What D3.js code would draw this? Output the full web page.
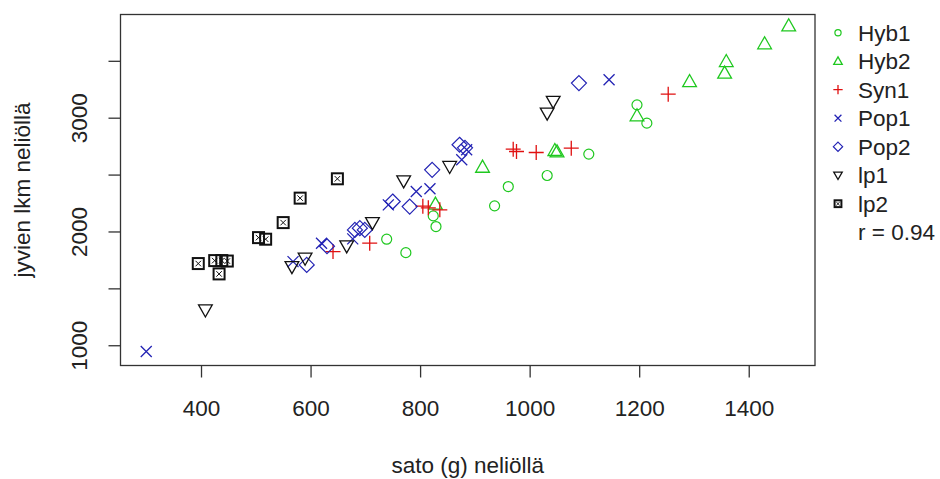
<!DOCTYPE html>
<html><head><meta charset="utf-8">
<script src="https://cdn.jsdelivr.net/npm/d3@7"></script>
<style>body{margin:0;background:#fff}svg{display:block}text{font-family:"Liberation Sans",Arial,sans-serif;fill:#222}</style>
</head><body>
<svg id="c" width="940" height="479"></svg>
<script>
const groups = ["Hyb1","Hyb2","Syn1","Pop1","Pop2","lp1","lp2"];
const hyb1X = [739, 774, 824, 829, 936, 961, 1032, 1108, 1196, 1214];
const hyb1Y = [1932, 1814, 2137, 2043, 2225, 2395, 2492, 2680, 3113, 2952];
const hyb2X = [828, 914, 1046, 1050, 1196, 1292, 1356, 1359, 1429, 1473];
const hyb2Y = [2240, 2565, 2712, 2700, 3017, 3318, 3392, 3494, 3650, 3808];
const syn1X = [641, 708, 805, 815, 836, 970, 976, 1012, 1076, 1253];
const syn1Y = [1823, 1897, 2222, 2208, 2190, 2723, 2703, 2694, 2732, 3207];
const pop1X = [300, 568, 620, 677, 742, 793, 818, 876, 885, 1145];
const pop1Y = [945, 1735, 1897, 1935, 2234, 2351, 2375, 2630, 2718, 3333];
const pop2X = [593, 630, 681, 690, 699, 750, 781, 822, 872, 882, 1090];
const pop2Y = [1706, 1870, 2014, 2029, 2014, 2263, 2219, 2542, 2762, 2735, 3304];
const lp1X = [408, 566, 590, 666, 713, 770, 854, 1032, 1043];
const lp1Y = [1310, 1691, 1765, 1873, 2078, 2445, 2571, 3040, 3143];
const lp2X = [395, 425, 438, 448, 433, 505, 518, 550, 581, 649];
const lp2Y = [1718, 1744, 1744, 1740, 1627, 1946, 1932, 2078, 2293, 2463];
const xTicks = [400, 600, 800, 1000, 1200, 1400];
const yTicks = [1000, 1500, 2000, 2500, 3000, 3500];
const yTickLabels = ["1000", "", "2000", "", "3000", ""];
const rLabel = "r = 0.94";
const colors = {Hyb1:"#1fc81f",Hyb2:"#1fc81f",Syn1:"#e01010",Pop1:"#2323b4",Pop2:"#2323b4",lp1:"#111",lp2:"#111"};
const shapes = {Hyb1:"circle",Hyb2:"tri",Syn1:"plus",Pop1:"cross",Pop2:"diamond",lp1:"tridown",lp2:"boxx"};
const dataX = {Hyb1:hyb1X,Hyb2:hyb2X,Syn1:syn1X,Pop1:pop1X,Pop2:pop2X,lp1:lp1X,lp2:lp2X};
const dataY = {Hyb1:hyb1Y,Hyb2:hyb2Y,Syn1:syn1Y,Pop1:pop1Y,Pop2:pop2Y,lp1:lp1Y,lp2:lp2Y};

const FS = "22.5px";
const L=120.5,R=815,T=14.5,B=365.5;
const x = d3.scaleLinear().domain([253,1521]).range([L,R]);
const y = d3.scaleLinear().domain([822,3907]).range([B,T]);
const svg = d3.select("#c");

function sym(g, shape, cx, cy, s, col){
  const k=s;
  if(shape==="circle") g.append("circle").attr("cx",cx).attr("cy",cy).attr("r",5*k).attr("fill","none").attr("stroke",col).attr("stroke-width",1.2);
  else if(shape==="tri"){const h=7*k;g.append("path").attr("d",`M${cx},${cy-h}L${cx+h*0.98},${cy+h*0.72}L${cx-h*0.98},${cy+h*0.72}Z`).attr("fill","none").attr("stroke",col).attr("stroke-width",1.3);}
  else if(shape==="tridown"){const h=7*k;g.append("path").attr("d",`M${cx},${cy+h}L${cx+h*0.98},${cy-h*0.72}L${cx-h*0.98},${cy-h*0.72}Z`).attr("fill","none").attr("stroke",col).attr("stroke-width",1.3);}
  else if(shape==="plus"){const h=7.5*k;g.append("path").attr("d",`M${cx-h},${cy}H${cx+h}M${cx},${cy-h}V${cy+h}`).attr("stroke",col).attr("stroke-width",1.3);}
  else if(shape==="cross"){const h=5.5*k;g.append("path").attr("d",`M${cx-h},${cy-h}L${cx+h},${cy+h}M${cx-h},${cy+h}L${cx+h},${cy-h}`).attr("stroke",col).attr("stroke-width",1.3);}
  else if(shape==="diamond"){const h=7.5*k;g.append("path").attr("d",`M${cx},${cy-h}L${cx+h},${cy}L${cx},${cy+h}L${cx-h},${cy}Z`).attr("fill","none").attr("stroke",col).attr("stroke-width",1.2);}
  else if(shape==="boxx"){const h=5.5*k,q=h*0.5;g.append("rect").attr("x",cx-h).attr("y",cy-h).attr("width",2*h).attr("height",2*h).attr("fill","none").attr("stroke",col).attr("stroke-width",2);
    g.append("path").attr("d",`M${cx-q},${cy-q}L${cx+q},${cy+q}M${cx-q},${cy+q}L${cx+q},${cy-q}`).attr("stroke",col).attr("stroke-width",1);}
}

// box
svg.append("rect").attr("x",L).attr("y",T).attr("width",R-L).attr("height",B-T).attr("fill","none").attr("stroke","#333").attr("stroke-width",1.3);

// x axis
const xa = svg.append("g").attr("transform",`translate(0,${B})`).call(d3.axisBottom(x).tickValues(xTicks).tickSize(12).tickPadding(23).tickFormat(d3.format("d")));
xa.select(".domain").remove();
xa.selectAll("line").attr("stroke","#333").attr("stroke-width",1.3);
xa.selectAll("text").style("font-size",FS).attr("fill","#222");
// y axis
const ya = svg.append("g").attr("transform",`translate(${L},0)`).call(d3.axisLeft(y).tickValues(yTicks).tickSize(12).tickFormat((d,i)=>yTickLabels[i]));
ya.select(".domain").remove();
ya.selectAll("line").attr("stroke","#333").attr("stroke-width",1.3);
ya.selectAll("text").style("font-size",FS).attr("fill","#222").attr("text-anchor","middle").attr("x",0).attr("dy",0)
  .attr("transform","translate(-34,0) rotate(-90)");

svg.append("text").attr("x",(L+R)/2).attr("y",473).attr("text-anchor","middle").style("font-size",FS).text("sato (g) neliöllä");
svg.append("text").attr("transform",`translate(30,${(T+B)/2}) rotate(-90)`).attr("text-anchor","middle").style("font-size",FS).text("jyvien lkm neliöllä");

// points
const pg = svg.append("g");
groups.forEach(gn=>{
  dataX[gn].forEach((v,i)=>sym(pg, shapes[gn], x(v), y(dataY[gn][i]), 1, colors[gn]));
});

// legend
const lg = svg.append("g");
groups.forEach((gn,i)=>{
  const yy = 32.7 + i*28.5;
  sym(lg, shapes[gn], 838, yy, 0.62, colors[gn]);
  lg.append("text").attr("x",858).attr("y",yy+8).style("font-size",FS).text(gn);
});
lg.append("text").attr("x",858).attr("y",32.7+7*28.5+8).style("font-size",FS).text(rLabel);
</script>
</body></html>
